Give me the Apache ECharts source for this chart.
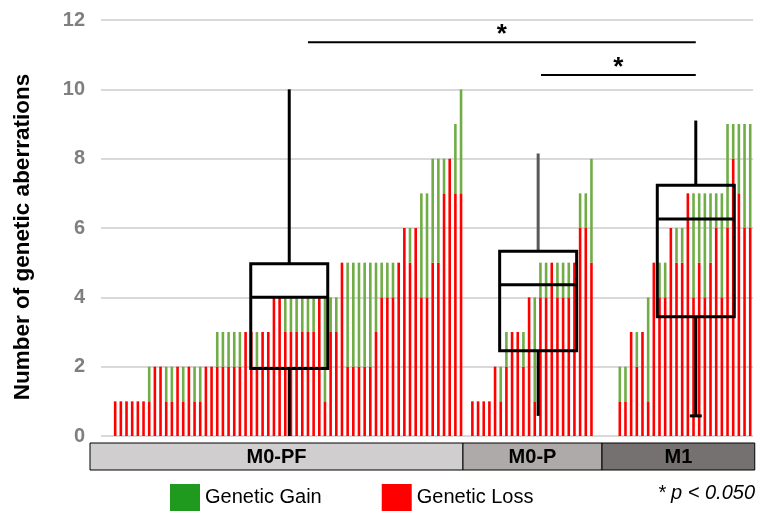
<!DOCTYPE html>
<html>
<head>
<meta charset="utf-8">
<script src="https://cdn.jsdelivr.net/npm/echarts@6/dist/echarts.min.js"></script>
<style>
  html, body { margin: 0; padding: 0; background: #fff; }
  #chart { width: 759px; height: 511px; }
</style>
</head>
<body>
<div id="chart"></div>
<script>
// per-sample counts (red = loss, green = gain)
const pfLoss = [1,1,1,1,1,1,1,2,2,1, 1,2,1,2,1,1,2,2,2,2, 2,2,2,3,3,2,3,3,4,4,
                3,3,3,3,3,3,4,1,3,3, 5,2,2,2,2,2,3,4,4,4, 5,6,5,6,4,4,5,5,7,8, 7,7];
const pfGain = [0,0,0,0,0,0,1,0,0,1, 1,0,1,0,1,1,0,0,1,1, 1,1,1,0,0,1,0,0,0,0,
                1,1,1,1,1,1,0,3,1,1, 0,3,3,3,3,3,2,1,1,1, 0,0,1,0,3,3,3,3,1,0, 2,3];
const pLoss = [1,1,1,1,2,1,2,3,3,2, 4,1,4,4,5,4,4,4,5,6, 6,5];
const pGain = [0,0,0,0,0,1,1,0,0,1, 0,3,1,1,0,1,1,1,0,1, 1,3];
const m1Loss = [1,1,3,2,3,1,5,4,4,6, 5,5,7,4,5,4,5,6,4,6, 8,7,6,6];
const m1Gain = [1,1,0,1,0,3,0,1,1,0, 1,1,0,3,2,3,2,1,3,3, 1,2,3,3];

// empty slots: before first group, between groups
const padLead = 2, padPF_P = 1, padP_M1 = 4;

const groupNames = ['M0-PF', 'M0-P', 'M1'];
const groupColors = ['#d0cece', '#aeaaaa', '#767171'];
// group band extents in slot units
const groupBands = [[-1.94, 63.84], [63.84, 88.36], [88.36, 115.3]];

// box plots: [x slot, min, q1, median, q3, max]
const boxes = [
  [33.2, 0, 1.95, 4.0, 4.97, 10],
  [77.1, 0.58, 2.46, 4.36, 5.33, 8.15],
  [104.9, 0.58, 3.44, 6.26, 7.23, 9.1]
];
const boxTopColor = ['#000', '#595959', '#000'];
const boxLowCap = [false, false, true];

// significance bars: [x from, x to, y]
const sigLines = [[36.5, 104.9, 11.36], [77.6, 104.9, 10.41]];

const yTicks = [0, 2, 4, 6, 8, 10, 12];

const FONT = 'Liberation Sans, Arial, sans-serif';

// build the slot arrays
function pad(n) { return new Array(n).fill('-'); }
const lossData = [].concat(pad(padLead), pfLoss, pad(padPF_P), pLoss, pad(padP_M1), m1Loss);
const gainData = [].concat(pad(padLead), pfGain, pad(padPF_P), pGain, pad(padP_M1), m1Gain);
const slots = lossData.map((_, i) => 's' + i);
const nSlots = slots.length;

const chart = echarts.init(document.getElementById('chart'));

const option = {
  backgroundColor: '#fff',
  animation: false,
  textStyle: { fontFamily: FONT },
  grid: { left: 101, right: 759 - 101 - nSlots * 5.67, top: 20, bottom: 75 },
  legend: {
    left: 165, top: 479,
    itemWidth: 30, itemHeight: 27, itemGap: 60,
    icon: 'rect',
    textStyle: { fontSize: 20, color: '#000' },
    data: [
      { name: 'Genetic Gain', itemStyle: { color: '#1f9a1f' } },
      { name: 'Genetic Loss', itemStyle: { color: '#ff0000' } }
    ]
  },
  xAxis: [
    {
      type: 'category', data: slots,
      axisLine: { show: false }, axisTick: { show: false }, axisLabel: { show: false }
    },
    { type: 'value', min: 0, max: nSlots, show: false }
  ],
  yAxis: {
    type: 'value', min: yTicks[0], max: yTicks[yTicks.length - 1], interval: 2,
    name: 'Number of genetic aberrations',
    nameLocation: 'middle', nameGap: 67,
    nameTextStyle: { fontSize: 22.5, fontWeight: 'bold', color: '#000', padding: [0, 18, 0, 0] },
    axisLine: { show: false }, axisTick: { show: false },
    axisLabel: { fontSize: 20, fontWeight: 'bold', color: '#7f7f7f', margin: 16 },
    splitLine: { lineStyle: { color: '#d9d9d9', width: 2 } }
  },
  series: [
    {
      name: 'Genetic Loss', type: 'bar', stack: 'n', data: lossData,
      barWidth: 2.6, itemStyle: { color: '#ff0000' }
    },
    {
      name: 'Genetic Gain', type: 'bar', stack: 'n', data: gainData,
      barWidth: 2.6, itemStyle: { color: '#70ad47' }
    },
    {
      // group bands under the axis
      type: 'custom', xAxisIndex: 1, clip: false, silent: true,
      data: groupBands.map((b, i) => [b[0], b[1], i]),
      renderItem: function (params, api) {
        const i = api.value(2);
        const x0 = api.coord([api.value(0), 0])[0];
        const x1 = api.coord([api.value(1), 0])[0];
        const y0 = params.coordSys.y + params.coordSys.height + 7;
        const h = 27;
        return {
          type: 'group',
          children: [
            { type: 'rect', shape: { x: x0, y: y0, width: x1 - x0, height: h },
              style: { fill: groupColors[i], stroke: '#000', lineWidth: 1 } },
            { type: 'text', style: { text: groupNames[i], x: (x0 + x1) / 2, y: y0 + h / 2 + 1,
              align: 'center', verticalAlign: 'middle', fontSize: 20, fontWeight: 'bold',
              fill: '#000', fontFamily: FONT } }
          ]
        };
      }
    },
    {
      // box plots
      type: 'custom', xAxisIndex: 1, silent: true, z: 5,
      data: boxes.map((b, i) => b.concat(i)),
      renderItem: function (params, api) {
        const i = api.value(6);
        const xc = api.value(0);
        const hw = 6.79;
        const pmin = api.coord([xc, api.value(1)]);
        const pq1 = api.coord([xc, api.value(2)]);
        const pmed = api.coord([xc, api.value(3)]);
        const pq3 = api.coord([xc, api.value(4)]);
        const pmax = api.coord([xc, api.value(5)]);
        const xl = api.coord([xc - hw, 0])[0];
        const xr = api.coord([xc + hw, 0])[0];
        const st = { stroke: '#000', lineWidth: 3, fill: 'none' };
        const ch = [
          { type: 'line', shape: { x1: pmax[0], y1: pmax[1], x2: pq3[0], y2: pq3[1] },
            style: { stroke: boxTopColor[i], lineWidth: 3 } },
          { type: 'line', shape: { x1: pq1[0], y1: pq1[1], x2: pmin[0], y2: pmin[1] }, style: st },
          { type: 'rect', shape: { x: xl, y: pq3[1], width: xr - xl, height: pq1[1] - pq3[1] }, style: st },
          { type: 'line', shape: { x1: xl, y1: pmed[1], x2: xr, y2: pmed[1] }, style: st }
        ];
        if (boxLowCap[i]) {
          ch.push({ type: 'line', shape: { x1: pmin[0] - 6, y1: pmin[1], x2: pmin[0] + 6, y2: pmin[1] },
            style: { stroke: '#000', lineWidth: 3 } });
        }
        return { type: 'group', children: ch };
      }
    },
    {
      // significance bars
      type: 'custom', xAxisIndex: 1, silent: true, z: 5,
      data: sigLines,
      renderItem: function (params, api) {
        const a = api.coord([api.value(0), api.value(2)]);
        const b = api.coord([api.value(1), api.value(2)]);
        return {
          type: 'group',
          children: [
            { type: 'line', shape: { x1: a[0], y1: a[1], x2: b[0], y2: b[1] },
              style: { stroke: '#000', lineWidth: 2 } },
            { type: 'text', style: { text: '*', x: (a[0] + b[0]) / 2, y: a[1] + 6,
              align: 'center', verticalAlign: 'bottom', fontSize: 26, fontWeight: 'bold',
              fill: '#000', fontFamily: FONT } }
          ]
        };
      }
    }
  ],
  graphic: [
    { type: 'text', right: 4, top: 483,
      style: { text: '* p < 0.050', fontSize: 20, fontStyle: 'italic', fill: '#000',
        fontFamily: FONT } }
  ]
};

chart.setOption(option);
</script>
</body>
</html>
